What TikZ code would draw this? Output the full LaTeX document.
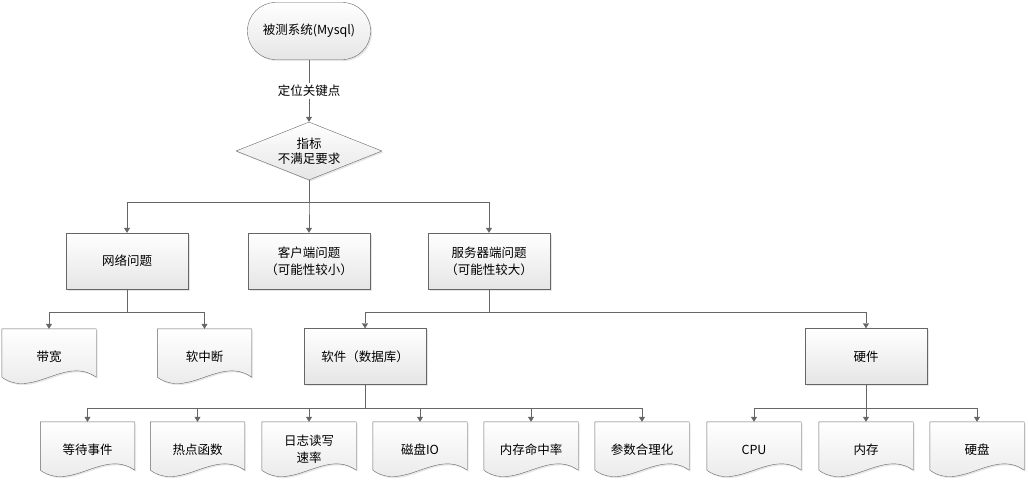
\documentclass[tikz,border=0pt]{standalone}
\usepackage{fontspec}
\setmainfont{Noto Sans CJK SC}
\usetikzlibrary{positioning, shapes.geometric, arrows.meta, shadows, backgrounds}
\colorlet{line_gray}{black!60}
\colorlet{shade_top}{white}
\colorlet{shade_bottom}{black!10}

\begin{document}
\begin{tikzpicture}[
                        x=1pt, y=-1pt,
                        font=\fontsize{12.5}{17}\selectfont,
                        soft/.style={top color=shade_top, bottom color=shade_bottom, draw=line_gray,
                            drop shadow={shadow xshift=1.5pt, shadow yshift=-1.5pt, opacity=0.2}},
                        terminal/.style={soft, rounded corners=28pt, minimum width=123pt, minimum height=57pt},
                        decision/.style={soft, diamond, aspect=2.5, inner sep=0pt, minimum width=146pt, minimum height=58pt, align=center,
                            font=\fontsize{12.5}{15}\selectfont},
                        block/.style={soft, minimum width=122pt, minimum height=56pt, align=center},
                        docu/.style={minimum width=94pt, minimum height=55pt, inner sep=0pt, align=center},
                        link/.style={draw=line_gray, -{Triangle[width=6pt, length=5pt]}},
                    ]
                        \useasboundingbox (0,0) rectangle (1028,482);

                        %nodes
                        \node[terminal] (system) at (309,31) {被测系统(Mysql)};
                        \node[decision] (target) at (309,151) {指标\\不满足要求};
                        \node[block] (network) at (127,261) {网络问题};
                        \node[block] (client) at (309,261) {客户端问题\\（可能性较小）};
                        \node[block] (server) at (489,261) {服务器端问题\\（可能性较大）};
                        \node[block] (software) at (365,356.5) {软件（数据库）};
                        \node[block] (hardware) at (866,356.5) {硬件};

                        % documents
                        \node[docu] (bandwidth) at (49,356.5) {带宽};
                        \node[docu] (softirq) at (204.5,356.5) {软中断};
                        \node[docu] (wait) at (87.5,449.5) {等待事件};
                        \node[docu] (hotspot) at (197.5,449.5) {热点函数};
                        \node[docu] (redo) at (309,449.5) {日志读写\\速率};
                        \node[docu] (diskio) at (420,449.5) {磁盘IO};
                        \node[docu] (hitrate) at (531,449.5) {内存命中率};
                        \node[docu] (params) at (642,449.5) {参数合理化};
                        \node[docu] (cpu) at (754,449.5) {CPU};
                        \node[docu] (memory) at (866,449.5) {内存};
                        \node[docu] (disk) at (977,449.5) {硬盘};
                        \begin{scope}[on background layer]
                        \foreach \d in {bandwidth, softirq, wait, hotspot, redo, diskio, hitrate, params, cpu, memory, disk} {
                            \draw[soft] (\d.north west) -- (\d.north east) -- ([yshift=7pt]\d.south east)
                                .. controls ([xshift=-31pt, yshift=29pt]\d.south east) and ([xshift=31pt, yshift=-15pt]\d.south west)
                                .. ([yshift=7pt]\d.south west) -- cycle;
                        }
                        \end{scope}

                        % connections
                        \draw[link] (system) -- (target) node[midway, fill=white, inner sep=2pt] {定位关键点};
                        \foreach \m in {network, client, server} {
                            \draw[link] (target.south) -- ++(0,22) -| (\m.north);
                        }
                        \foreach \m in {bandwidth, softirq} {
                            \draw[link] (network.south) -- ++(0,23) -| (\m.north);
                        }
                        \foreach \m in {software, hardware} {
                            \draw[link] (server.south) -- ++(0,23) -| (\m.north);
                        }
                        \foreach \m in {wait, hotspot, redo, diskio, hitrate, params} {
                            \draw[link] (software.south) -- ++(0,23) -| (\m.north);
                        }
                        \foreach \m in {cpu, memory, disk} {
                            \draw[link] (hardware.south) -- ++(0,23) -| (\m.north);
                        }
\end{tikzpicture}
\end{document}
